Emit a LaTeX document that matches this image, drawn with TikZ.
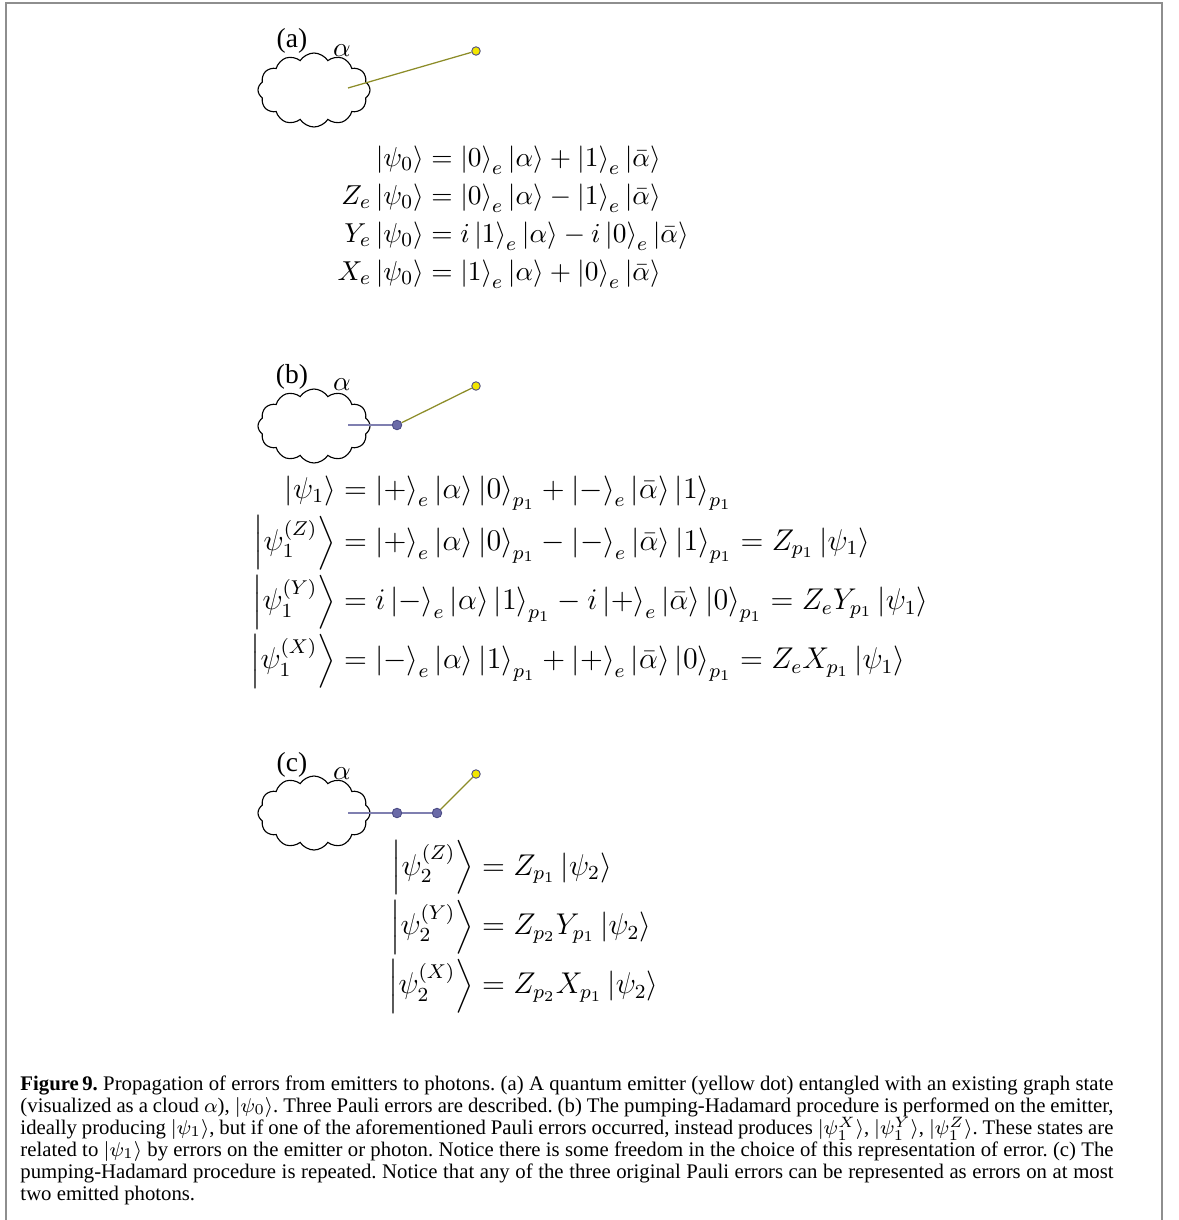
\documentclass[tikz,border=0pt]{standalone}
\usepackage{amsmath}
\usepackage{fontspec}
\newfontfamily\capfont{Liberation Serif}
\usetikzlibrary{shapes.symbols}
\definecolor{emitfill}{HTML}{F2E600}
\definecolor{dotedge}{HTML}{4B4B85}
\definecolor{photfill}{HTML}{6B6BA8}
\definecolor{photline}{HTML}{7F7FB0}
\definecolor{emitline}{HTML}{8C8C28}
\definecolor{framegray}{HTML}{8E8E8E}
\newcommand{\capline}[1]{\makebox[437.2pt][s]{#1}}
\newcommand{\kt}[1]{\left\lvert #1\right\rangle}
\newcommand{\eqfont}{\fontsize{11.3}{12.2}\selectfont\lineskiplimit=-10pt\relax}
\newcommand{\bigeqfont}{\fontsize{11.5}{12.2}\selectfont\jot=1.1pt\relax}
\newcommand{\capsize}{\capfont\fontsize{8.3}{8.8}\selectfont\frenchspacing\lineskiplimit=-10pt\relax}
\begin{document}
\begin{tikzpicture}[x=0.4pt,y=-0.4pt,every node/.style={inner sep=0pt}]
\tikzset{cloudbox/.style={draw,cloud,cloud puffs=12,cloud puff arc=115,aspect=1.5,minimum width=44.8pt,minimum height=29.6pt,inner sep=0pt,line width=0.45pt},
  emitter/.style={circle,draw=dotedge,fill=emitfill,minimum size=3.4pt,line width=0.35pt},
  photon/.style={circle,draw=dotedge,fill=photfill,minimum size=3.8pt,line width=0.35pt},
  tag/.style={font=\capfont\fontsize{11}{12}\selectfont},
  cloudlbl/.style={font=\fontsize{11.4}{12.4}\selectfont},
  eqs/.style={font=\eqfont,anchor=west},
  bigeqs/.style={font=\bigeqfont,anchor=west},
  eline/.style={emitline,line width=0.5pt},
  pline/.style={photline,line width=0.5pt},
  capt/.style={font=\capsize,align=left,anchor=north west}}
\useasboundingbox (0,0) rectangle (1179,1220);
\draw[framegray,line width=1pt] (6,1220) -- (6,3) -- (1162,3) -- (1162,1220);
% (a) emitter next to the cloud
\node[tag] (la) at (292,41) {(a)};
\node[cloudbox] (ca) at (314,90) {};
\node[cloudlbl] (aa) at (342,51) {$\alpha$};
\coordinate (ra) at (348,88);
\node[emitter] (ea) at (476,51) {};
\draw[eline] (ra) -- (ea);
\node[eqs] (eqa) at (337,217) {$\begin{aligned}
  \kt{\psi_0} &= \kt{0}_e\kt{\alpha} + \kt{1}_e\kt{\bar\alpha}\\
  Z_e\kt{\psi_0} &= \kt{0}_e\kt{\alpha} - \kt{1}_e\kt{\bar\alpha}\\
  Y_e\kt{\psi_0} &= i\kt{1}_e\kt{\alpha} - i\kt{0}_e\kt{\bar\alpha}\\
  X_e\kt{\psi_0} &= \kt{1}_e\kt{\alpha} + \kt{0}_e\kt{\bar\alpha}
\end{aligned}$};
% (b) one photon emitted
\node[tag] (lb) at (292,377) {(b)};
\node[cloudbox] (cb) at (314,426) {};
\node[cloudlbl] (ab) at (342,385) {$\alpha$};
\coordinate (rb) at (348,425);
\node[photon] (pb1) at (397,425) {};
\node[emitter] (eb) at (476,386) {};
\draw[pline] (rb) -- (pb1);
\draw[eline] (pb1) -- (eb);
\node[bigeqs] (eqb) at (250,582) {$\begin{aligned}
  \kt{\psi_1} &= \kt{+}_e\kt{\alpha}\kt{0}_{p_1} + \kt{-}_e\kt{\bar\alpha}\kt{1}_{p_1}\\
  \kt{\psi_1^{(Z)}} &= \kt{+}_e\kt{\alpha}\kt{0}_{p_1} - \kt{-}_e\kt{\bar\alpha}\kt{1}_{p_1} = Z_{p_1}\kt{\psi_1}\\
  \kt{\psi_1^{(Y)}} &= i\kt{-}_e\kt{\alpha}\kt{1}_{p_1} - i\kt{+}_e\kt{\bar\alpha}\kt{0}_{p_1} = Z_e Y_{p_1}\kt{\psi_1}\\
  \kt{\psi_1^{(X)}} &= \kt{-}_e\kt{\alpha}\kt{1}_{p_1} + \kt{+}_e\kt{\bar\alpha}\kt{0}_{p_1} = Z_e X_{p_1}\kt{\psi_1}
\end{aligned}$};
% (c) two photons emitted
\node[tag] (lc) at (292,765) {(c)};
\node[cloudbox] (cc) at (314,813) {};
\node[cloudlbl] (ac) at (342,774) {$\alpha$};
\coordinate (rc) at (348,813);
\node[photon] (pc1) at (397,813) {};
\node[photon] (pc2) at (437,813) {};
\node[emitter] (ec) at (476,774) {};
\draw[pline] (rc) -- (pc1) -- (pc2);
\draw[eline] (pc2) -- (ec);
\node[bigeqs] (eqc) at (388,927) {$\begin{aligned}
  \kt{\psi_2^{(Z)}} &= Z_{p_1}\kt{\psi_2}\\
  \kt{\psi_2^{(Y)}} &= Z_{p_2}Y_{p_1}\kt{\psi_2}\\
  \kt{\psi_2^{(X)}} &= Z_{p_2}X_{p_1}\kt{\psi_2}
\end{aligned}$};
% caption
\node[capt] (cap) at (20,1075) {%
\capline{\textbf{Figure\,9.} Propagation of errors from emitters to photons. (a) A quantum emitter (yellow dot) entangled with an existing graph state}\\
\capline{(visualized as a cloud $\alpha$), $\lvert\psi_0\rangle$. Three Pauli errors are described. (b) The pumping-Hadamard procedure is performed on the emitter,}\\
\capline{ideally producing $\lvert\psi_1\rangle$, but if one of the aforementioned Pauli errors occurred, instead produces $\lvert\psi_1^X\rangle$, $\lvert\psi_1^Y\rangle$, $\lvert\psi_1^Z\rangle$. These states are}\\
\capline{related to $\lvert\psi_1\rangle$ by errors on the emitter or photon. Notice there is some freedom in the choice of this representation of error. (c) The}\\
\capline{pumping-Hadamard procedure is repeated. Notice that any of the three original Pauli errors can be represented as errors on at most}\\
two emitted photons.};
\end{tikzpicture}
\end{document}
